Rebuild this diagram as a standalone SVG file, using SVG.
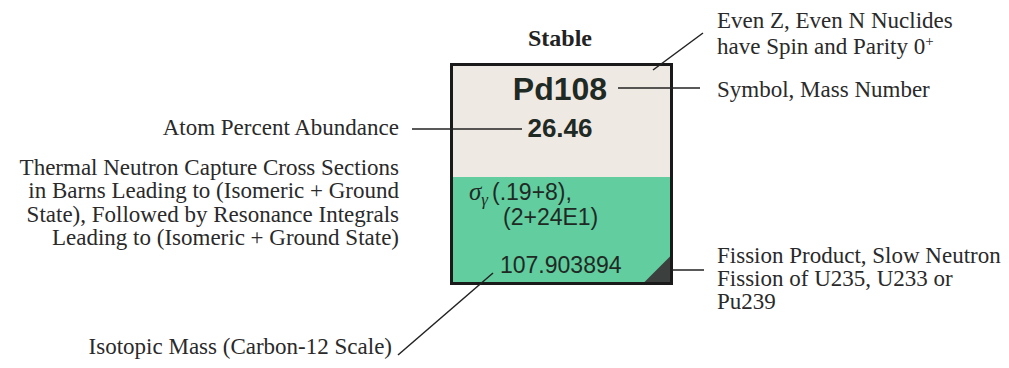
<svg xmlns="http://www.w3.org/2000/svg" width="1009" height="368" viewBox="0 0 1009 368">
<style>
.lbl{font-family:"Liberation Serif","Times New Roman",serif;font-size:23px;fill:#2a2a2a}
.cell{font-family:"Liberation Sans",Arial,sans-serif;fill:#1f2a25}
.lead{stroke:#222;stroke-width:1.5;fill:none}
</style>
<rect width="1009" height="368" fill="#ffffff"/>
<g id="title">
<text x="560" y="46" text-anchor="middle" style="font-family:'Liberation Serif','Times New Roman',serif;font-weight:bold;font-size:24px;fill:#222">Stable</text>
</g>
<g id="nuclide-cell">
<rect x="451.5" y="64.5" width="220" height="112.5" fill="#efe9e3"/>
<rect x="451.5" y="177" width="220" height="106.5" fill="#62cd9e"/>
<polygon points="643,283.5 671.5,255 671.5,283.5" fill="#3b3f3e"/>
<rect x="451.5" y="64.5" width="220" height="219" fill="none" stroke="#1a1a1a" stroke-width="3"/>
<text class="cell" x="560" y="100" text-anchor="middle" font-weight="bold" font-size="32" fill="#1a1a1a">Pd108</text>
<text class="cell" x="560" y="137" text-anchor="middle" font-weight="bold" font-size="26" fill="#1a1a1a">26.46</text>
<text x="469" y="200" style="font-family:'Liberation Serif','Times New Roman',serif;font-style:italic;font-size:25px;fill:#1f2a25">σ<tspan font-size="17" dy="5">γ</tspan></text>
<text class="cell" x="492" y="200" font-size="23">(.19+8),</text>
<text class="cell" x="503" y="225" font-size="23">(2+24E1)</text>
<text class="cell" x="500" y="273" font-size="23">107.903894</text>
</g>
<g id="label-spin">
<text class="lbl" x="717" y="28">Even Z, Even N Nuclides</text>
<text class="lbl" x="717" y="54">have Spin and Parity 0<tspan font-size="15" dy="-8">+</tspan></text>
</g>
<g id="label-symbol">
<text class="lbl" x="717" y="97">Symbol, Mass Number</text>
</g>
<g id="label-abundance">
<text class="lbl" x="399" y="135" text-anchor="end">Atom Percent Abundance</text>
</g>
<g id="label-cross-sections">
<text class="lbl" x="399" y="175" text-anchor="end">Thermal Neutron Capture Cross Sections</text>
<text class="lbl" x="399" y="198" text-anchor="end">in Barns Leading to (Isomeric + Ground</text>
<text class="lbl" x="399" y="222" text-anchor="end">State), Followed by Resonance Integrals</text>
<text class="lbl" x="399" y="245" text-anchor="end">Leading to (Isomeric + Ground State)</text>
</g>
<g id="label-fission">
<text class="lbl" x="717" y="263">Fission Product, Slow Neutron</text>
<text class="lbl" x="717" y="286">Fission of U235, U233 or</text>
<text class="lbl" x="717" y="309">Pu239</text>
</g>
<g id="label-mass">
<text class="lbl" x="392" y="354" text-anchor="end">Isotopic Mass (Carbon-12 Scale)</text>
</g>
<g id="connectors">
<line class="lead" x1="703" y1="33" x2="653" y2="70"/>
<line class="lead" x1="618" y1="88" x2="700" y2="88"/>
<line class="lead" x1="412" y1="129" x2="522" y2="129"/>
<line class="lead" x1="672" y1="270" x2="704" y2="270"/>
<line class="lead" x1="493" y1="273" x2="398" y2="355"/>
</g>
</svg>
